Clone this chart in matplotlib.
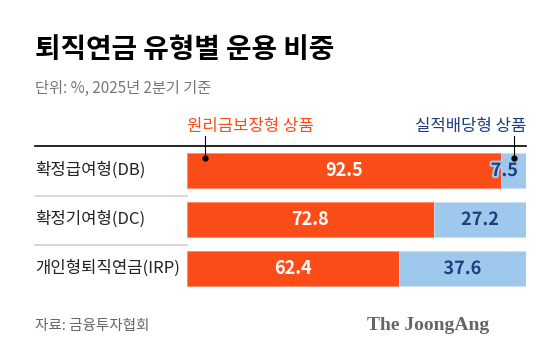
import matplotlib.pyplot as plt
import matplotlib.patheffects as pe

plt.rcParams['font.family'] = ['Noto Sans CJK KR', 'DejaVu Sans']

categories = ['확정급여형(DB)', '확정기여형(DC)', '개인형퇴직연금(IRP)']
guaranteed = [92.5, 72.8, 62.4]
performance = [7.5, 27.2, 37.6]

orange = '#fc4c17'
lightblue = '#9fc9ec'
navy = '#1f3f80'

W, H = 560, 357
fig = plt.figure(figsize=(W / 100, H / 100), dpi=100)

# bar area in pixels: x 187..526, y 146..293.5
ax = fig.add_axes([187 / W, 1 - 293.5 / H, 339 / W, 147.5 / H])
y = range(len(categories))
ax.barh(y, guaranteed, height=0.714, color=orange, edgecolor='#ff8a66', linewidth=0.6)
ax.barh(y, performance, left=guaranteed, height=0.714, color=lightblue, edgecolor='#c9e0f4', linewidth=0.6)
ax.set_xlim(0, 100)
ax.set_ylim(2.51, -0.5)
ax.axis('off')

for i in y:
    ax.text(guaranteed[i] / 2, i, f'{guaranteed[i]}', color='white', fontsize=13,
            fontweight='bold', ha='center', va='center')
    if performance[i] < 15:
        tx = 100 - 2.4
        ha = 'right'
    else:
        tx = guaranteed[i] + performance[i] / 2
        ha = 'center'
    ax.text(tx, i, f'{performance[i]}', color=navy, fontsize=13, fontweight='bold',
            ha=ha, va='center',
            path_effects=[pe.withStroke(linewidth=3, foreground=lightblue)])

# top black rule and grey separators
fig.add_artist(plt.Line2D([35 / W, 526 / W], [1 - 146 / H] * 2, color='black', lw=1.2))
for py in [196, 245]:
    fig.add_artist(plt.Line2D([35 / W, 187 / W], [1 - py / H] * 2, color='#d0d0d0', lw=1.2))

for i, c in enumerate(categories):
    fig.text(35 / W, 1 - (170.5 + 49 * i) / H, c, fontsize=12, color='#222222',
             ha='left', va='center')

# legend callouts
fig.text(187 / W, 1 - 126 / H, '원리금보장형 상품', color=orange, fontsize=12,
         ha='left', va='center')
fig.text(526 / W, 1 - 126 / H, '실적배당형 상품', color=navy, fontsize=12,
         ha='right', va='center')
for px in [205, 514]:
    fig.add_artist(plt.Line2D([px / W] * 2, [1 - 136 / H, 1 - 158 / H], color='black', lw=0.8))
    fig.add_artist(plt.Line2D([px / W], [1 - 158 / H], marker='o', markersize=3.5,
                              color='black'))

fig.text(35 / W, 1 - 50 / H, '퇴직연금 유형별 운용 비중', fontsize=20, fontweight='heavy',
         color='black', ha='left', va='center')
fig.text(35 / W, 1 - 88 / H, '단위: %, 2025년 2분기 기준', fontsize=11, color='#777777',
         ha='left', va='center')
fig.text(35 / W, 1 - 326 / H, '자료: 금융투자협회', fontsize=10.5, color='#666666',
         ha='left', va='center')
fig.text(489 / W, 1 - 326 / H, 'The JoongAng', fontsize=14, fontweight='bold',
         family='Liberation Serif', color='#666666', ha='right', va='center')

fig.savefig('out.png', dpi=100)
